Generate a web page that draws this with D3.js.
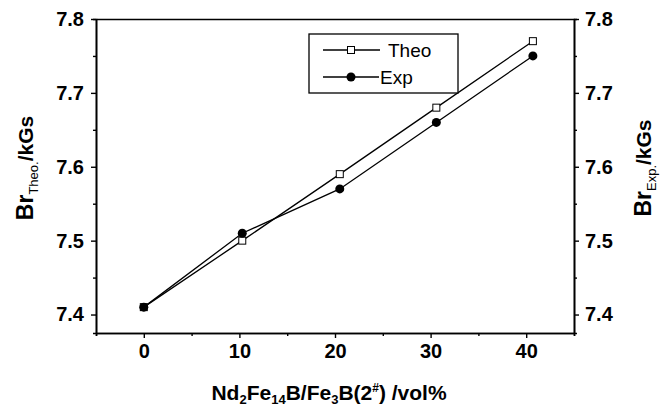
<!DOCTYPE html>
<html><head><meta charset="utf-8">
<script src="https://cdn.jsdelivr.net/npm/d3@7"></script>
<style>body{margin:0;background:#fff}svg{display:block}text{font-family:"Liberation Sans",Arial,sans-serif}</style>
</head><body><svg id="c" width="660" height="407"></svg>
<script>
const xValues = [0, 10.3, 20.5, 30.6, 40.7];
const theoValues = [7.41, 7.50, 7.59, 7.68, 7.77];
const expValues = [7.41, 7.51, 7.57, 7.66, 7.75];
const xTicks = [0, 10, 20, 30, 40];
const xMinorTicks = [-5, 5, 15, 25, 35, 45];
const yTicks = [7.4, 7.5, 7.6, 7.7, 7.8];
const yMinorTicks = [7.45, 7.55, 7.65, 7.75];
const seriesNames = ["Theo", "Exp"];

const svg = d3.select("#c");
const L = 96, R = 574, T = 19, B = 333;
const x = d3.scaleLinear().domain([-5, 45]).range([L, R]);
const y = d3.scaleLinear().domain([7.375, 7.8]).range([B, T]);

const tickFont = "bold 20px 'Liberation Sans', Arial, sans-serif";

function styleAxis(g){
  g.select(".domain").attr("stroke","#000").attr("stroke-width",1.6);
  g.selectAll(".tick line").attr("stroke","#000").attr("stroke-width",1.4);
  g.selectAll(".tick text").style("font", tickFont).attr("fill","#000");
}
const minorAxis = (ax) => ax.tickSize(3).tickFormat("");
svg.append("g").attr("transform",`translate(0,${B})`).call(minorAxis(d3.axisBottom(x).tickValues(xMinorTicks))).call(styleAxis);
svg.append("g").attr("transform",`translate(0,${T})`).call(d3.axisTop(x).tickValues([]).tickSizeOuter(0)).call(styleAxis);
svg.append("g").attr("transform",`translate(${L},0)`).call(minorAxis(d3.axisLeft(y).tickValues(yMinorTicks))).call(styleAxis);
svg.append("g").attr("transform",`translate(${R},0)`).call(minorAxis(d3.axisRight(y).tickValues(yMinorTicks))).call(styleAxis);
svg.append("g").attr("transform",`translate(0,${B})`).call(d3.axisBottom(x).tickValues(xTicks).tickSize(5).tickSizeOuter(0).tickPadding(6).tickFormat(d3.format("d"))).call(styleAxis);
svg.append("g").attr("transform",`translate(${L},0)`).call(d3.axisLeft(y).tickValues(yTicks).tickSize(5).tickSizeOuter(0).tickPadding(7).tickFormat(d3.format(".1f"))).call(styleAxis);
svg.append("g").attr("transform",`translate(${R},0)`).call(d3.axisRight(y).tickValues(yTicks).tickSize(5).tickSizeOuter(0).tickPadding(6).tickFormat(d3.format(".1f"))).call(styleAxis);

const line = d3.line().x(d=>x(d[0])).y(d=>y(d[1]));
const theo = xValues.map((v,i)=>[v, theoValues[i]]);
const exp = xValues.map((v,i)=>[v, expValues[i]]);
svg.append("path").datum(theo).attr("d",line).attr("fill","none").attr("stroke","#000").attr("stroke-width",1.3);
svg.append("path").datum(exp).attr("d",line).attr("fill","none").attr("stroke","#000").attr("stroke-width",1.3);
svg.selectAll(".sq").data(theo).enter().append("rect")
  .attr("x",d=>x(d[0])-3.5).attr("y",d=>y(d[1])-3.5).attr("width",7).attr("height",7)
  .attr("fill","#fff").attr("stroke","#000").attr("stroke-width",1);
svg.selectAll(".ci").data(exp).enter().append("circle")
  .attr("cx",d=>x(d[0])).attr("cy",d=>y(d[1])).attr("r",4.5).attr("fill","#000");

const lg = svg.append("g");
lg.append("rect").attr("x",309).attr("y",34).attr("width",149).attr("height",59).attr("fill","#fff").attr("stroke","#000").attr("stroke-width",1.3);
lg.append("line").attr("x1",323).attr("x2",380).attr("y1",50).attr("y2",50).attr("stroke","#000").attr("stroke-width",1.3);
lg.append("rect").attr("x",347.5).attr("y",46.5).attr("width",7).attr("height",7).attr("fill","#fff").attr("stroke","#000");
lg.append("text").attr("x",388).attr("y",57).text(seriesNames[0]).style("font","19px 'Liberation Sans', Arial, sans-serif");
lg.append("line").attr("x1",323).attr("x2",379).attr("y1",77).attr("y2",77).attr("stroke","#000").attr("stroke-width",1.3);
lg.append("circle").attr("cx",351).attr("cy",77).attr("r",4.5).attr("fill","#000");
lg.append("text").attr("x",380).attr("y",84).text(seriesNames[1]).style("font","19px 'Liberation Sans', Arial, sans-serif");

const big = "bold 21px 'Liberation Sans', Arial, sans-serif";
const xt = svg.append("text").attr("x",329).attr("y",400).attr("text-anchor","middle").style("font",big);
xt.append("tspan").text("Nd");
xt.append("tspan").text("2").attr("dy",4).style("font-size","13px");
xt.append("tspan").text("Fe").attr("dy",-4);
xt.append("tspan").text("14").attr("dy",4).style("font-size","13px");
xt.append("tspan").text("B/Fe").attr("dy",-4);
xt.append("tspan").text("3").attr("dy",4).style("font-size","13px");
xt.append("tspan").text("B(2").attr("dy",-4);
xt.append("tspan").text("#").attr("dy",-8).style("font-size","12px");
xt.append("tspan").text(") /vol%").attr("dy",8);

function yTitle(cx, sub){
  const t = svg.append("text").attr("transform",`translate(${cx},168) rotate(-90)`).attr("text-anchor","middle").style("font",big);
  t.append("tspan").text("Br").style("font-size","23px");
  t.append("tspan").text(sub).attr("dy",5).style("font-size","13px").style("font-weight","normal");
  t.append("tspan").text("/kGs").attr("dy",-5);
}
yTitle(33, "Theo.");
yTitle(651, "Exp.");
</script></body></html>
